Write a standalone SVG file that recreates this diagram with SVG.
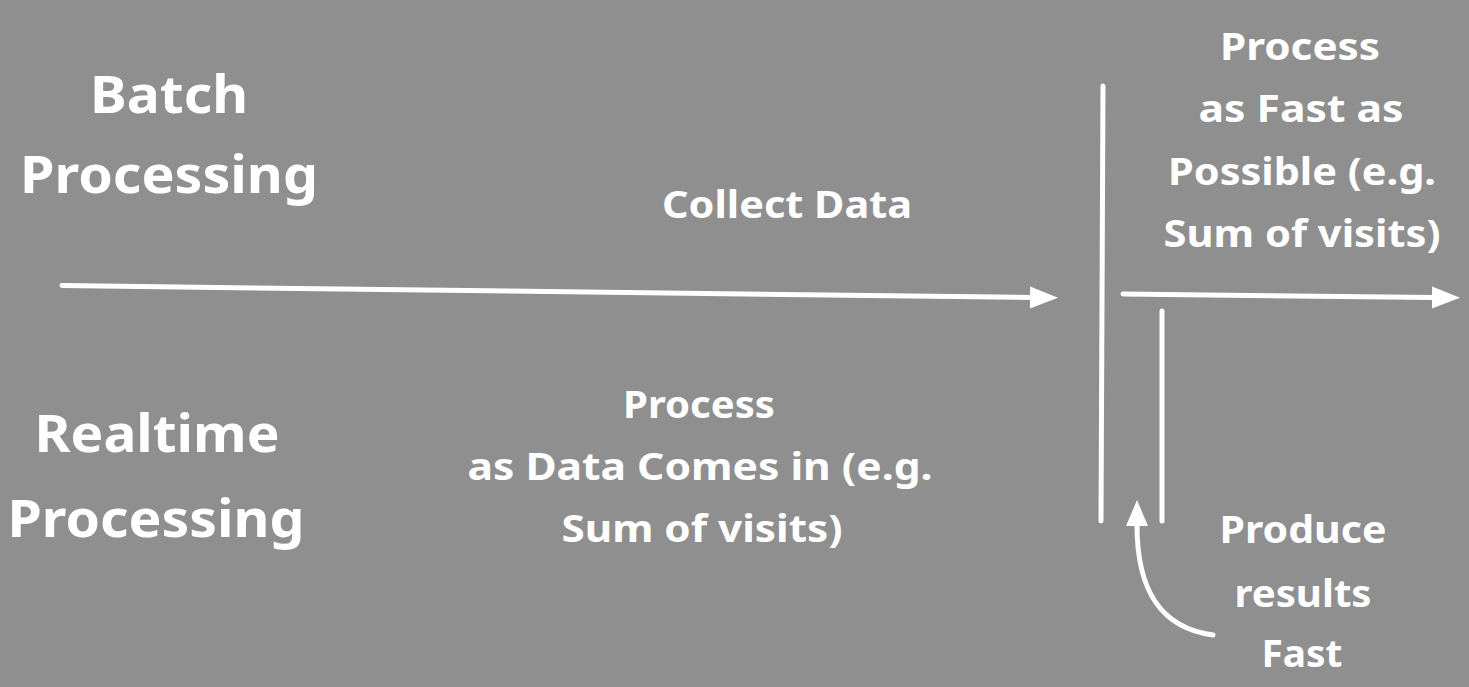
<svg xmlns="http://www.w3.org/2000/svg" width="1469" height="687" viewBox="0 0 1469 687">
<style>
.t{font-family:"Noto Sans","Open Sans",sans-serif;font-weight:700;fill:#ffffff;text-anchor:middle}
.big{font-size:52px}
.sm{font-size:38px}
.ln{stroke:#ffffff;stroke-width:5;fill:none;stroke-linecap:round}
</style>
<defs>
<marker id="ah" markerUnits="userSpaceOnUse" markerWidth="30" markerHeight="24" refX="1" refY="11" orient="auto">
<path d="M0,0 L28,11 L0,22 z" fill="#ffffff"/>
</marker>
<marker id="ah2" markerUnits="userSpaceOnUse" markerWidth="30" markerHeight="24" refX="1" refY="11" orient="auto">
<path d="M0,0 L26,11 L0,22 z" fill="#ffffff"/>
</marker>
</defs>
<rect x="0" y="0" width="1469" height="687" fill="#8f8f8f"/>
<g id="batch-label">
<text class="t big" x="169" y="113" textLength="158" lengthAdjust="spacingAndGlyphs">Batch</text>
<text class="t big" x="169" y="193" textLength="298" lengthAdjust="spacingAndGlyphs">Processing</text>
</g>
<g id="realtime-label">
<text class="t big" x="157" y="452" textLength="245" lengthAdjust="spacingAndGlyphs">Realtime</text>
<text class="t big" x="156" y="537" textLength="297" lengthAdjust="spacingAndGlyphs">Processing</text>
</g>
<g id="collect-data">
<text class="t sm" x="787" y="218" textLength="250" lengthAdjust="spacingAndGlyphs">Collect Data</text>
</g>
<g id="process-as-data-comes">
<text class="t sm" x="699" y="418" textLength="152" lengthAdjust="spacingAndGlyphs">Process</text>
<text class="t sm" x="700" y="480" textLength="465" lengthAdjust="spacingAndGlyphs">as Data Comes in (e.g.</text>
<text class="t sm" x="702" y="542" textLength="281" lengthAdjust="spacingAndGlyphs">Sum of visits)</text>
</g>
<g id="process-fast">
<text class="t sm" x="1300" y="60" textLength="160" lengthAdjust="spacingAndGlyphs">Process</text>
<text class="t sm" x="1301" y="122" textLength="205" lengthAdjust="spacingAndGlyphs">as Fast as</text>
<text class="t sm" x="1302" y="185" textLength="268" lengthAdjust="spacingAndGlyphs">Possible (e.g.</text>
<text class="t sm" x="1302" y="247" textLength="277" lengthAdjust="spacingAndGlyphs">Sum of visits)</text>
</g>
<g id="produce-results">
<text class="t sm" x="1303" y="543" textLength="167" lengthAdjust="spacingAndGlyphs">Produce</text>
<text class="t sm" x="1303" y="607" textLength="137" lengthAdjust="spacingAndGlyphs">results</text>
<text class="t sm" x="1302" y="667" textLength="81" lengthAdjust="spacingAndGlyphs">Fast</text>
</g>
<g id="connectors">
<line class="ln" x1="62" y1="285.5" x2="1031" y2="297.5" marker-end="url(#ah)"/>
<line class="ln" x1="1103" y1="86" x2="1101" y2="521"/>
<line class="ln" x1="1123" y1="294" x2="1433" y2="297.5" marker-end="url(#ah)"/>
<line class="ln" x1="1162" y1="311" x2="1162" y2="521"/>
<path class="ln" d="M1213,635 C1160,628 1137,590 1137,525" marker-end="url(#ah2)"/>
</g>
</svg>
